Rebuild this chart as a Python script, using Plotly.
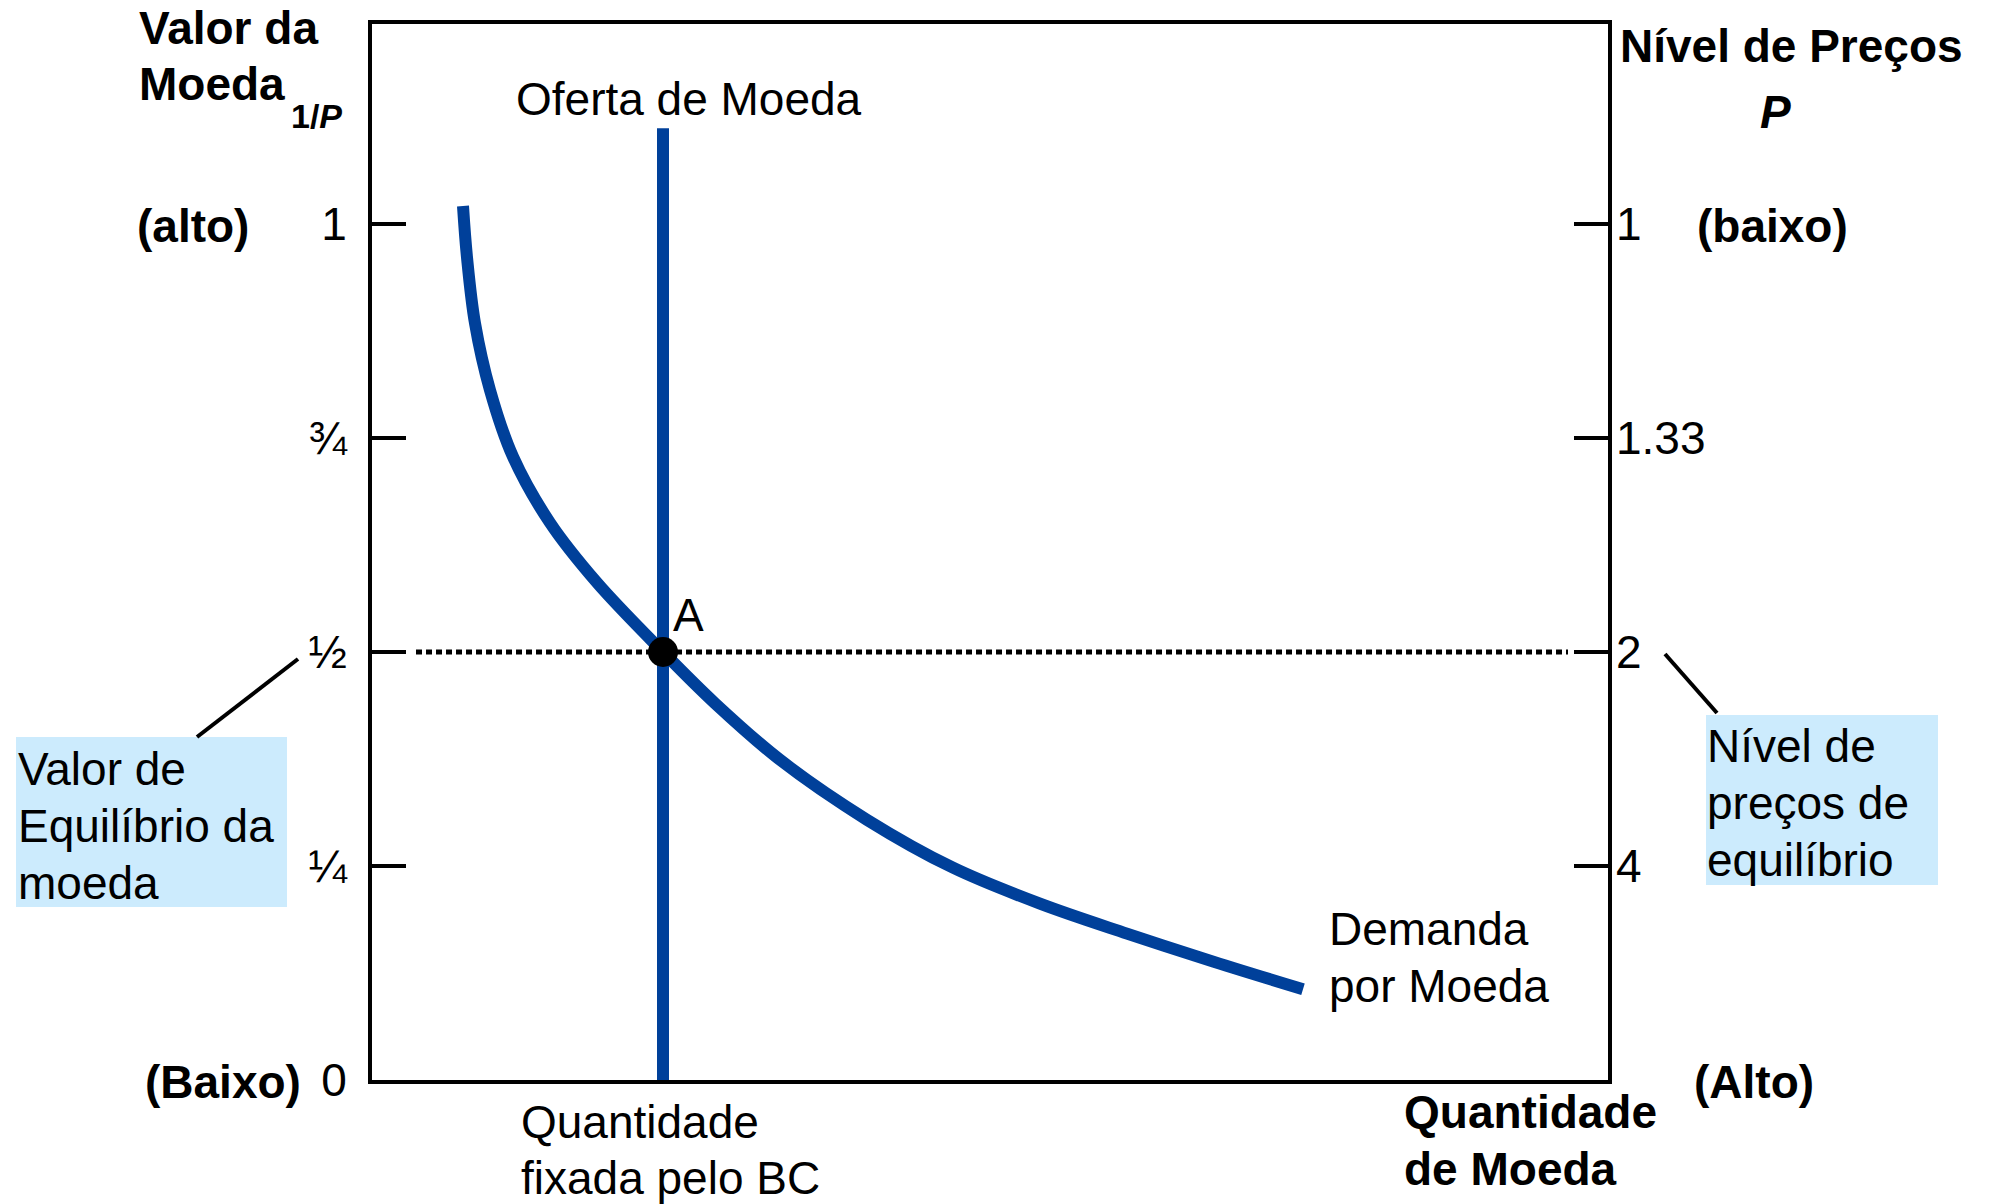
import plotly.graph_objects as go

# ---------------- data ----------------
value_ticks = [0, 0.25, 0.5, 0.75, 1]
value_labels = ["0", "¼", "½", "¾", "1"]
price_ticks = [0.25, 0.5, 0.75, 1]
price_labels = ["4", "2", "1.33", "1"]

supply_q = [2.91, 2.91]
supply_v = [0.0, 1.112]

demand_q = [0.91, 0.95, 1.03, 1.18, 1.41, 1.78, 2.25, 2.91, 3.43, 4.08, 4.95, 5.81, 6.68, 7.55, 8.42, 9.31]
demand_v = [1.021, 0.961, 0.884, 0.806, 0.728, 0.651, 0.581, 0.5, 0.440, 0.374, 0.304, 0.248, 0.206, 0.171, 0.138, 0.106]

equil_q = [2.91]
equil_v = [0.5]

dotted_q = [0.44, 11.96]
dotted_v = [0.5, 0.5]

# ---------------- layout helpers ----------------
W, H = 1991, 1204          # browser window
OFF = 8                    # default body margin of the html page
FW, FH = W - 2 * OFF, H - OFF
L, R, T, B = 372, 1608, 24, 1080   # plot frame in window pixels
X_MAX = 12.36
Y_MAX = (B - T) / 856.0

def px(x):
    return (x - L) / (R - L)

def py(y):
    return (B - y) / (B - T)

BLUE = "#00409A"
FONT = "Liberation Sans, Arial, sans-serif"
FS = 46

fig = go.Figure()

fig.add_trace(go.Scatter(x=dotted_q, y=dotted_v, mode="lines",
                         line=dict(color="black", width=5, dash="6px,4px"),
                         hoverinfo="skip", showlegend=False))
fig.add_trace(go.Scatter(x=supply_q, y=supply_v, mode="lines",
                         line=dict(color=BLUE, width=12),
                         hoverinfo="skip", showlegend=False))
fig.add_trace(go.Scatter(x=demand_q, y=demand_v, mode="lines",
                         line=dict(color=BLUE, width=12, shape="spline", smoothing=1.0),
                         hoverinfo="skip", showlegend=False))
fig.add_trace(go.Scatter(x=equil_q, y=equil_v, mode="markers",
                         marker=dict(color="black", size=30),
                         hoverinfo="skip", showlegend=False))
# invisible trace for the right axis
fig.add_trace(go.Scatter(x=[None], y=[None], yaxis="y2", showlegend=False, hoverinfo="skip"))

annotations = []

def txt(text, x, y, xanchor="left", size=FS, bold=False):
    if bold:
        text = "<b>" + text + "</b>"
    annotations.append(dict(text=text, x=px(x), y=py(y), xref="paper", yref="paper",
                            xanchor=xanchor, yanchor="middle", showarrow=False,
                            font=dict(family=FONT, size=size, color="black")))

# left axis title
txt("Valor da", 137, 28, bold=True)
txt("Moeda", 137, 84, bold=True)
txt("1/<i>P</i>", 344, 116, xanchor="right", size=34, bold=True)
txt("(alto)", 135, 226, bold=True)
txt("(Baixo)", 143, 1082, bold=True)

# right axis title
txt("Nível de Preços", 1791, 46, xanchor="center", bold=True)
txt("<i>P</i>", 1775, 112, xanchor="center", bold=True)
txt("(baixo)", 1695, 226, bold=True)
txt("(Alto)", 1692, 1082, bold=True)

# curve labels
txt("Oferta de Moeda", 514, 99)
txt("A", 671, 615)
txt("Demanda", 1327, 929)
txt("por Moeda", 1327, 986)
txt("Quantidade", 519, 1122)
txt("fixada pelo BC", 519, 1178)
txt("Quantidade", 1402, 1112, bold=True)
txt("de Moeda", 1402, 1169, bold=True)

# boxed notes
txt("Valor de", 16, 769)
txt("Equilíbrio da", 16, 826)
txt("moeda", 16, 883)
txt("Nível de", 1705, 746)
txt("preços de", 1705, 803)
txt("equilíbrio", 1705, 860)

shapes = [
    dict(type="rect", xref="paper", yref="paper", x0=px(16), x1=px(287), y0=py(907), y1=py(737),
         fillcolor="#CCEBFD", line=dict(width=0), layer="below"),
    dict(type="rect", xref="paper", yref="paper", x0=px(1706), x1=px(1938), y0=py(885), y1=py(715),
         fillcolor="#CCEBFD", line=dict(width=0), layer="below"),
    dict(type="line", xref="paper", yref="paper", x0=px(197), y0=py(737), x1=px(298), y1=py(659),
         line=dict(color="black", width=4)),
    dict(type="line", xref="paper", yref="paper", x0=px(1665), y0=py(654), x1=px(1717), y1=py(713),
         line=dict(color="black", width=4)),
]

fig.update_layout(
    width=FW, height=FH,
    margin=dict(l=L - OFF, r=FW - (R - OFF), t=T - OFF, b=FH - (B - OFF), pad=0),
    paper_bgcolor="white", plot_bgcolor="white",
    font=dict(family=FONT, size=FS, color="black"),
    xaxis=dict(range=[0, X_MAX], showgrid=False, zeroline=False, showticklabels=False,
               ticks="", showline=True, linecolor="black", linewidth=4, mirror=True,
               fixedrange=True),
    yaxis=dict(range=[0, Y_MAX], tickvals=value_ticks, ticktext=value_labels,
               ticks="inside", ticklen=34, tickwidth=4, tickcolor="black",
               showgrid=False, zeroline=False, showline=True, linecolor="black",
               linewidth=4, mirror=True, ticklabelstandoff=12,
               tickfont=dict(family=FONT, size=FS, color="black"), fixedrange=True),
    yaxis2=dict(range=[0, Y_MAX], overlaying="y", side="right", tickvals=price_ticks,
                ticktext=price_labels, ticks="inside", ticklen=34, tickwidth=4,
                tickcolor="black", showgrid=False, zeroline=False, showline=False,
                ticklabelstandoff=7,
                tickfont=dict(family=FONT, size=FS, color="black"), fixedrange=True),
    annotations=annotations,
    shapes=shapes,
    showlegend=False,
)

fig.write_html("out.html")
